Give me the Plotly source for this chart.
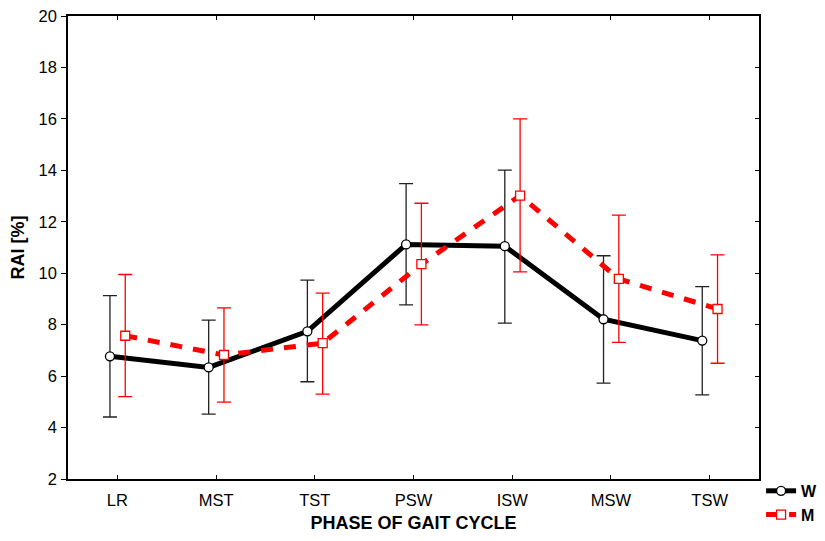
import plotly.graph_objects as go

categories = ["LR", "MST", "TST", "PSW", "ISW", "MSW", "TSW"]

w_mean = [6.77, 6.34, 7.74, 11.12, 11.05, 8.21, 7.38]
w_upper = [9.13, 8.18, 9.73, 13.48, 14.01, 10.68, 9.48]
w_lower = [4.41, 4.52, 5.78, 8.77, 8.06, 5.73, 5.27]

m_mean = [7.57, 6.82, 7.28, 10.35, 13.02, 9.78, 8.61]
m_upper = [9.95, 8.65, 9.23, 12.72, 16.0, 12.26, 10.71]
m_lower = [5.20, 4.99, 5.30, 7.99, 10.05, 7.31, 6.50]

y_ticks = [2, 4, 6, 8, 10, 12, 14, 16, 18, 20]

idx = list(range(len(categories)))
w_x = [i - 0.075 for i in idx]
m_x = [i + 0.08 for i in idx]

FONT = "Liberation Sans, Arial, sans-serif"

fig = go.Figure()

fig.add_trace(go.Scatter(
    x=w_x, y=w_mean, name="<b>W</b>", mode="lines+markers",
    line=dict(color="black", width=5),
    marker=dict(symbol="circle", size=9, color="white",
                line=dict(color="black", width=1.3)),
    error_y=dict(type="data", symmetric=False,
                 array=[u - m for u, m in zip(w_upper, w_mean)],
                 arrayminus=[m - l for l, m in zip(w_lower, w_mean)],
                 color="#222222", thickness=1.3, width=7),
))

fig.add_trace(go.Scatter(
    x=m_x, y=m_mean, name="<b>M</b>", mode="lines+markers",
    line=dict(color="#ff0000", width=5, dash="12px,11px"),
    marker=dict(symbol="square", size=9, color="white",
                line=dict(color="#ff0000", width=1.3)),
    error_y=dict(type="data", symmetric=False,
                 array=[u - m for u, m in zip(m_upper, m_mean)],
                 arrayminus=[m - l for l, m in zip(m_lower, m_mean)],
                 color="#ff0000", thickness=1.3, width=7),
))

# invisible helper trace so the mirrored frame axes (top/right) are drawn
fig.add_trace(go.Scatter(
    x=w_x, y=w_mean, xaxis="x2", yaxis="y2", mode="markers",
    marker=dict(opacity=0), showlegend=False, hoverinfo="skip",
))

xr = [-0.5, 6.5]
yr = [2, 20]

# the page body adds an 8px offset to the figure
fig.update_layout(
    width=817, height=525,
    margin=dict(l=60, r=66, t=8, b=54, autoexpand=False),
    paper_bgcolor="white", plot_bgcolor="white",
    font=dict(family=FONT, size=16.5, color="black"),
    showlegend=True,
    legend=dict(x=1.003, y=0.011, xanchor="left", yanchor="top",
                font=dict(family=FONT, size=16, color="black"),
                bgcolor="rgba(0,0,0,0)", tracegroupgap=0,
                itemwidth=30),
    xaxis=dict(
        range=xr, tickmode="array", tickvals=idx, ticktext=categories,
        ticks="inside", ticklen=4, tickcolor="black", tickwidth=1,
        showline=True, linecolor="black", linewidth=1.5,
        showgrid=False, zeroline=False, automargin=False,
        ticklabelstandoff=5, ticklabeloverflow="allow",
        title=dict(text="<b>PHASE OF GAIT CYCLE</b>", standoff=15,
                   font=dict(family=FONT, size=18)),
        tickfont=dict(family=FONT, size=16.5),
    ),
    yaxis=dict(
        range=yr, tickmode="array", tickvals=y_ticks,
        ticks="outside", ticklen=5, tickcolor="black", tickwidth=1,
        showline=True, linecolor="black", linewidth=1.5,
        showgrid=False, zeroline=False, automargin=False,
        ticklabelstandoff=1, ticklabeloverflow="allow",
        title=dict(text="<b>RAI [%]</b>", standoff=12,
                   font=dict(family=FONT, size=18)),
        tickfont=dict(family=FONT, size=16.5),
    ),
    xaxis2=dict(
        overlaying="x", side="top", anchor="y", range=xr,
        tickmode="array", tickvals=idx, showticklabels=False,
        ticks="inside", ticklen=4, tickcolor="black", tickwidth=1,
        showline=True, linecolor="black", linewidth=1.5,
        showgrid=False, zeroline=False, automargin=False,
    ),
    yaxis2=dict(
        overlaying="y", side="right", anchor="x", range=yr,
        tickmode="array", tickvals=y_ticks, showticklabels=False,
        ticks="inside", ticklen=4, tickcolor="black", tickwidth=1,
        showline=True, linecolor="black", linewidth=1.5,
        showgrid=False, zeroline=False, automargin=False,
    ),
)

fig.write_html("out.html")
